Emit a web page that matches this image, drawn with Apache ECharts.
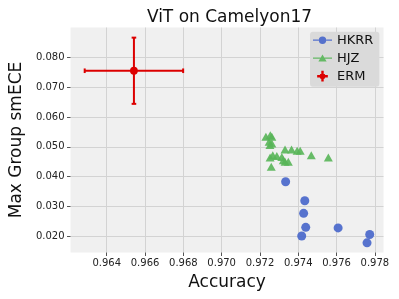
<!DOCTYPE html>
<html>
<head>
<meta charset="utf-8">
<script src="https://cdn.jsdelivr.net/npm/echarts@6/dist/echarts.min.js"></script>
<style>html,body{margin:0;padding:0;background:#fff}#c{width:399px;height:299px}</style>
</head>
<body>
<div id="c"></div>
<script>
// ---- data ----
const xTicks = [0.964, 0.966, 0.968, 0.970, 0.972, 0.974, 0.976, 0.978];
const yTicks = [0.020, 0.030, 0.040, 0.050, 0.060, 0.070, 0.080];

const hkrrX = [0.97334, 0.97434, 0.97428, 0.97439, 0.97418, 0.97608, 0.97773, 0.97759];
const hkrrY = [0.0383, 0.0319, 0.0277, 0.0230, 0.0201, 0.0228, 0.0206, 0.0178];

const hjzX = [0.97231, 0.97254, 0.97262, 0.97248, 0.97262, 0.97252, 0.97331, 0.97365, 0.97394, 0.97410,
              0.97468, 0.97557, 0.97267, 0.97288, 0.97253, 0.97314, 0.97322, 0.97348, 0.97331, 0.97259];
const hjzY = [0.0534, 0.0539, 0.0534, 0.0517, 0.0511, 0.0506, 0.0491, 0.0491, 0.0487, 0.0487,
              0.0472, 0.0464, 0.0472, 0.0469, 0.0464, 0.0466, 0.0455, 0.0450, 0.0450, 0.0433];

const ermX = [0.96542];
const ermY = [0.0755];
const ermXErr = [0.00257];
const ermYErr = [0.0111];

// ---- styles ----
const BLUE = '#4e6bcb', GREEN = '#58b558', RED = '#dc0000';
const FONT = 'DejaVu Sans';

const bbox = 'M0,0 L0.01,0 L0,0.01 Z M19,11 L18.99,11 L19,10.99 Z ';
const iconHKRR = 'path://' + bbox +
  'M0,4.85 L5.8,4.85 L5.8,6.15 L0,6.15 Z M13.2,4.85 L19,4.85 L19,6.15 L13.2,6.15 Z ' +
  'M13.2,5.5 A3.7,3.7 0 1 1 5.8,5.5 A3.7,3.7 0 1 1 13.2,5.5 Z';
const iconHJZ = 'path://' + bbox +
  'M0,4.85 L7.6,4.85 L7.3,6.15 L0,6.15 Z M11.4,4.85 L19,4.85 L19,6.15 L11.7,6.15 Z ' +
  'M9.5,1.8 L13.6,8.9 L5.4,8.9 Z';
const iconERM = 'path://' + bbox +
  'M8.3,0.15 L10.7,0.15 L10.7,4.3 L14.85,4.3 L14.85,6.7 L10.7,6.7 L10.7,10.85 L8.3,10.85 L8.3,6.7 L4.15,6.7 L4.15,4.3 L8.3,4.3 Z ' +
  'M9.5,2.3 L11.76,3.24 L12.7,5.5 L11.76,7.76 L9.5,8.7 L7.24,7.76 L6.3,5.5 L7.24,3.24 Z';

const chart = echarts.init(document.getElementById('c'), null, {renderer: 'canvas'});
chart.setOption({
  backgroundColor: '#ffffff',
  animation: false,
  textStyle: {fontFamily: FONT},
  title: {
    text: 'ViT on Camelyon17',
    left: 224.5, textAlign: 'center', top: 4,
    textStyle: {fontFamily: FONT, fontSize: 17, fontWeight: 'normal', color: '#111'}
  },
  grid: {
    left: 65.5, right: 15.5, top: 27.5, bottom: 46.5,
    show: true, backgroundColor: '#f0f0f0', borderWidth: 0
  },
  legend: {
    orient: 'vertical', left: 310, top: 31.7,
    padding: [2, 6, 4, 3], itemGap: 5, itemWidth: 19, itemHeight: 11,
    backgroundColor: '#dadada', borderRadius: 3,
    textStyle: {fontFamily: FONT, fontSize: 13, color: '#111'},
    data: [
      {name: 'HKRR', icon: iconHKRR},
      {name: 'HJZ', icon: iconHJZ},
      {name: 'ERM', icon: iconERM}
    ]
  },
  xAxis: {
    type: 'value', min: 0.96211, max: 0.97845,
    name: 'Accuracy', nameLocation: 'middle', nameGap: 22,
    nameTextStyle: {fontFamily: FONT, fontSize: 17, color: '#111'},
    axisLine: {show: false},
    axisTick: {show: true, length: 3.5, lineStyle: {color: '#555', width: 1}, customValues: xTicks},
    axisLabel: {customValues: xTicks, margin: 6, fontSize: 10, color: '#222', fontFamily: FONT,
      formatter: v => v.toFixed(3)},
    splitLine: {show: true, lineStyle: {color: '#d3d3d3', width: 1}}
  },
  yAxis: {
    type: 'value', min: 0.01456, max: 0.0900,
    name: 'Max Group smECE', nameLocation: 'middle', nameGap: 38,
    nameTextStyle: {fontFamily: FONT, fontSize: 17, color: '#111'},
    axisLine: {show: false},
    axisTick: {show: true, length: 3.5, lineStyle: {color: '#555', width: 1}, customValues: yTicks},
    axisLabel: {customValues: yTicks, margin: 6, fontSize: 10, color: '#222', fontFamily: FONT,
      formatter: v => v.toFixed(3)},
    splitLine: {show: true, lineStyle: {color: '#d3d3d3', width: 1}}
  },
  series: [
    {
      name: 'HKRR', type: 'scatter', symbol: 'circle', symbolSize: 9,
      itemStyle: {color: BLUE, opacity: 0.95},
      data: hkrrX.map((x, i) => [x, hkrrY[i]])
    },
    {
      name: 'HJZ', type: 'scatter', symbol: 'triangle', symbolSize: [9, 8],
      itemStyle: {color: GREEN, opacity: 0.9},
      data: hjzX.map((x, i) => [x, hjzY[i]])
    },
    {
      name: 'ERM', type: 'custom',
      itemStyle: {color: RED},
      encode: {x: 0, y: 1},
      clip: false,
      data: ermX.map((x, i) => [x, ermY[i], ermXErr[i], ermYErr[i]]),
      renderItem: function (params, api) {
        const x = api.value(0), y = api.value(1), xe = api.value(2), ye = api.value(3);
        const c = api.coord([x, y]);
        const l = api.coord([x - xe, y]), r = api.coord([x + xe, y]);
        const t = api.coord([x, y + ye]), b = api.coord([x, y - ye]);
        const cap = 2.3;
        const st = {stroke: RED, lineWidth: 2};
        return {
          type: 'group',
          children: [
            {type: 'line', shape: {x1: l[0], y1: c[1], x2: r[0], y2: c[1]}, style: st},
            {type: 'line', shape: {x1: c[0], y1: t[1], x2: c[0], y2: b[1]}, style: st},
            {type: 'line', shape: {x1: l[0], y1: c[1] - cap, x2: l[0], y2: c[1] + cap}, style: st},
            {type: 'line', shape: {x1: r[0], y1: c[1] - cap, x2: r[0], y2: c[1] + cap}, style: st},
            {type: 'line', shape: {x1: c[0] - cap, y1: t[1], x2: c[0] + cap, y2: t[1]}, style: st},
            {type: 'line', shape: {x1: c[0] - cap, y1: b[1], x2: c[0] + cap, y2: b[1]}, style: st},
            {type: 'circle', shape: {cx: c[0], cy: c[1], r: 3.9}, style: {fill: RED}}
          ]
        };
      }
    }
  ]
});
</script>
</body>
</html>
